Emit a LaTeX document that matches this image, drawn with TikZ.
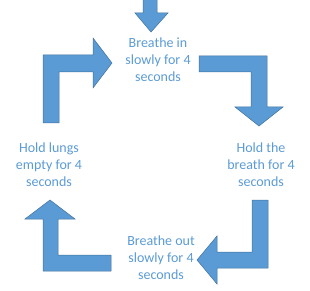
\documentclass[tikz,border=0pt]{standalone}
\usepackage{fontspec}
\setmainfont{Carlito}
\definecolor{arrowfill}{HTML}{5B9BD5}
\definecolor{arrowline}{HTML}{41719C}
\definecolor{txt}{HTML}{5B9BD5}
\begin{document}
\begin{tikzpicture}[x=1pt,y=-1pt,
  arr/.style={fill=arrowfill,draw=arrowline,line width=0.5pt,line join=miter},
  lbl/.style={text=txt,align=center,font=\fontsize{14}{17}\selectfont,inner sep=0pt}]
\useasboundingbox (0,0) rectangle (310,291);
% arrows
\begin{scope}
\clip (0,0) rectangle (310,291);
\draw[arr] (143,-2) -- (157,-2) -- (157,13) -- (168,13) -- (151,32) -- (135,13) -- (143,13) -- cycle;
\end{scope}
\draw[arr] (43,123) -- (43,55) -- (93,55) -- (93,38) -- (112,63) -- (93,88) -- (93,72) -- (59,72) -- (59,123) -- cycle;
\draw[arr] (199,56) -- (267,56) -- (267,107) -- (283,107) -- (259,126) -- (235,107) -- (251,107) -- (251,72) -- (199,72) -- cycle;
\draw[arr] (252,200) -- (268,200) -- (268,268) -- (217,268) -- (217,284) -- (197,260) -- (217,236) -- (217,252) -- (252,252) -- cycle;
\draw[arr] (111,255) -- (111,271) -- (43,271) -- (43,219) -- (25,219) -- (50,200) -- (75,219) -- (58,219) -- (58,255) -- cycle;
% labels
\node[lbl] (in) at (158,60) {Breathe in\\slowly for 4\\seconds};
\node[lbl] (hold) at (261,165) {Hold the\\breath for 4\\seconds};
\node[lbl] (out) at (161,258) {Breathe out\\slowly for 4\\seconds};
\node[lbl] (empty) at (49,165) {Hold lungs\\empty for 4\\seconds};
\end{tikzpicture}
\end{document}
